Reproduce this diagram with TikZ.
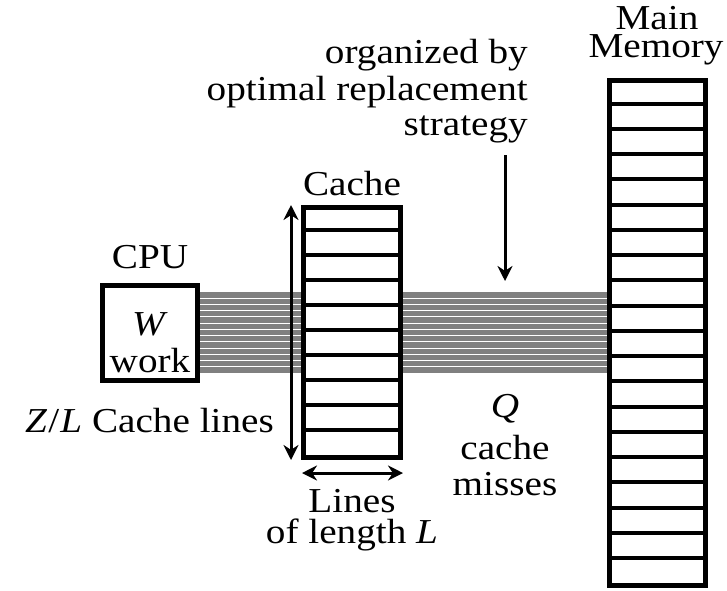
\documentclass[tikz,border=0pt]{standalone}
\usepackage{fontspec}
\usepackage{graphicx}
\setmainfont{Liberation Serif}
\usetikzlibrary{arrows.meta}
\newcommand{\hstr}[1]{\scalebox{1.12}[1]{#1}}
\begin{document}
\begin{tikzpicture}[x=1pt,y=-1pt,
  lbl/.style={font=\fontsize{35}{36}\selectfont, inner sep=0pt},
  boxline/.style={draw, line width=4.5pt},
  cellline/.style={line width=4pt},
  band/.style={draw=black!50, line width=5.2pt},
  dblarrow/.style={line width=3pt, {Stealth[length=15pt,width=15pt]}-{Stealth[length=15pt,width=15pt]}},
  onearrow/.style={line width=3pt, -{Stealth[length=15pt,width=15pt]}}]
\useasboundingbox (0,0) rectangle (727,590);
% boxes
\node[boxline, minimum width=95pt, minimum height=95pt, inner sep=0pt] (cpu) at (150,333) {};
\node[boxline, minimum width=97pt, minimum height=250pt, inner sep=0pt] (cache) at (352,332.5) {};
\node[boxline, minimum width=96pt, minimum height=505pt, inner sep=0pt] (mem) at (657.5,333) {};
% band of lines
\foreach \i in {0,...,12} {
  \pgfmathsetmacro{\yy}{295+\i*6.25}
  \coordinate (a\i) at (0,\yy);
  \draw[band] (cpu.east |- a\i) -- (cache.west |- a\i);
  \draw[band] (cache.east |- a\i) -- (mem.west |- a\i);
}
% cache cells
\foreach \i in {1,...,9} {
  \draw[cellline] ([yshift=-\i*25pt]cache.north west) -- ([yshift=-\i*25pt]cache.north east);
}
% memory cells
\foreach \i in {1,...,19} {
  \draw[cellline] ([yshift=-\i*25.25pt]mem.north west) -- ([yshift=-\i*25.25pt]mem.north east);
}
% redraw borders on top
\node[boxline, minimum width=95pt, minimum height=95pt, inner sep=0pt] at (cpu.center) {};
\node[boxline, minimum width=97pt, minimum height=250pt, inner sep=0pt] at (cache.center) {};
\node[boxline, minimum width=96pt, minimum height=505pt, inner sep=0pt] at (mem.center) {};
% arrows
\coordinate (vt) at (291,205);
\coordinate (vb) at (291,460);
\draw[dblarrow] (vt) -- (vb);
\coordinate (hl) at (302,473);
\coordinate (hr) at (403,473);
\draw[dblarrow] (hl) -- (hr);
% labels
\node[lbl, anchor=base] (cpulbl) at (150,268) {\hstr{CPU}};
\node[lbl, anchor=base] (wlbl) at (150,335) {\hstr{\textit{W}}};
\node[lbl, anchor=base] (worklbl) at (150,372) {\hstr{work}};
\node[lbl, anchor=base east] (zl) at (274,432) {\hstr{\textit{Z}\kern1pt/\kern1pt\textit{L} Cache lines}};
\node[lbl, anchor=base] (cachelbl) at (352,195) {\hstr{Cache}};
\node[lbl, anchor=base] (lines1) at (352,512) {\hstr{Lines}};
\node[lbl, anchor=base] (lines2) at (352,543) {\hstr{of length \textit{L}}};
\node[lbl, anchor=base east] (org1) at (528,63) {\hstr{organized by}};
\node[lbl, anchor=base east] (org2) at (528,100) {\hstr{optimal replacement}};
\node[lbl, anchor=base east] (org3) at (528,135) {\hstr{strategy}};
\coordinate (dtop) at (505,155);
\coordinate (dbot) at (505,281);
\draw[onearrow] (dtop) -- (dbot);
\node[lbl, anchor=base] (q) at (505,417) {\hstr{\textit{Q}}};
\node[lbl, anchor=base] (q2) at (505,459) {\hstr{cache}};
\node[lbl, anchor=base] (q3) at (505,495) {\hstr{misses}};
\node[lbl, anchor=base] (main1) at (657,29) {\hstr{Main}};
\node[lbl, anchor=base] (main2) at (656,57) {\hstr{Memory}};
\end{tikzpicture}
\end{document}
